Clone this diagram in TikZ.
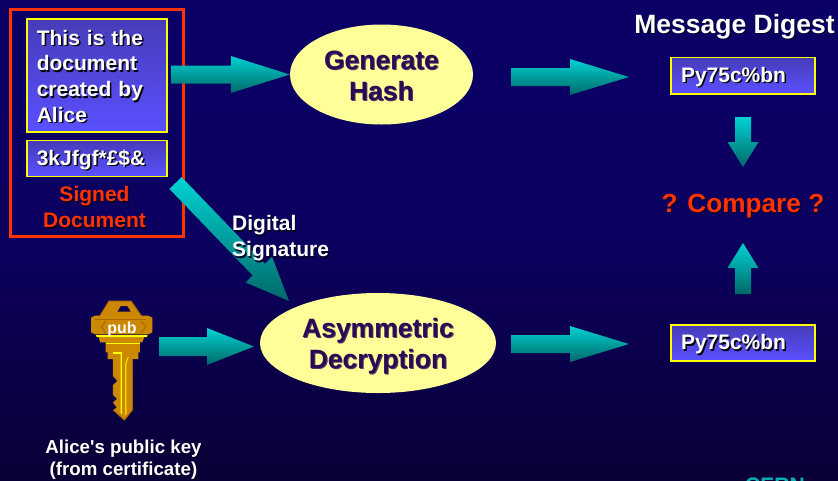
\documentclass[tikz,border=0pt]{standalone}
\usepackage{fontspec}
\setmainfont{Liberation Sans}
\newfontfamily\plainsans{Liberation Sans}
\usetikzlibrary{calc,shapes.geometric}
\definecolor{bgtop}{HTML}{0B0066}
\definecolor{bgbot}{HTML}{0A0036}
\definecolor{boxtop}{HTML}{463CB8}
\definecolor{boxbot}{HTML}{5A50FF}
\definecolor{frm}{HTML}{FF3300}
\definecolor{ell}{HTML}{FFFF99}
\definecolor{ink}{HTML}{2A0A55}
\definecolor{arrtop}{HTML}{00D2D2}
\definecolor{arrbot}{HTML}{006868}
\definecolor{keyo}{HTML}{CC8800}
\definecolor{keyd}{HTML}{A86A00}
\definecolor{keyy}{HTML}{FFFF00}
\definecolor{cern}{HTML}{00B4B4}
\newcommand\shd[1]{\leavevmode\rlap{\kern1.5pt\raisebox{-1.5pt}{\textcolor{black}{#1}}}#1}
\newcommand\shr[1]{\leavevmode\rlap{\kern1.2pt\raisebox{-1.2pt}{\textcolor{black!65!bgtop}{#1}}}#1}
\newcommand\she[1]{\leavevmode\rlap{\kern1pt\raisebox{-1pt}{\textcolor{ink!80!ell}{#1}}}#1}
\newcommand\blockarrow[5]{%
  \coordinate (hb) at ($(#2)!#5pt!(#1)$);
  \shade[top color=arrtop,bottom color=arrbot]
    ($(#1)!#3pt!90:(#2)$) -- ($(hb)!#3pt!90:(#2)$) -- ($(hb)!#4pt!90:(#2)$) -- (#2)
    -- ($(hb)!#4pt!-90:(#2)$) -- ($(hb)!#3pt!-90:(#2)$) -- ($(#1)!#3pt!-90:(#2)$) -- cycle;}
\tikzset{
  bluebox/.style={draw=keyy,line width=1.6pt,top color=boxtop,bottom color=boxbot,outer sep=0pt,
    anchor=north west,inner ysep=0pt,inner xsep=10pt,text=white,font=\bfseries\fontsize{21}{25.7}\selectfont,
    align=left,text width=120.4pt,minimum width=140.4pt},
  linebox/.style={bluebox,minimum height=36.2pt,text height=17.5pt,text depth=4pt},
  oval/.style={ellipse,fill=ell,inner sep=0pt},
  ovaltext/.style={text=ink,inner sep=0pt,align=center,font=\bfseries\fontsize{26.5}{32}\selectfont},
  wlabel/.style={text=white,inner sep=0pt,font=\bfseries\fontsize{21}{26}\selectfont},
  rlabel/.style={text=frm,inner sep=0pt,align=center,font=\bfseries\fontsize{21}{26}\selectfont}
}
\begin{document}
\begin{tikzpicture}[x=1pt,y=-1pt]
\useasboundingbox (0,0) rectangle (838,480);
\clip (0,0) rectangle (838,480);
\shade[top color=bgtop,bottom color=bgbot,middle color=bgtop!85!bgbot] (0,0) rectangle (838,480);

% frame and document
\node[draw=frm,line width=3pt,outer sep=0pt,minimum width=173pt,minimum height=227pt,anchor=north west,inner sep=0pt] (frame) at (10.5,9.5) {};
\node[bluebox,minimum height=113.4pt] (doc) at (26.8,18.8) {\rule{0pt}{18pt}\shd{This is the}\\\shd{document}\\\shd{created by}\\\shd{Alice}};
\node[linebox] (sig) at (26.8,140.3) {\shd{3kJfgf*£\$\&}};
\node[rlabel] (signed) at (94.5,208) {\shr{Signed}\\\shr{Document}};

% ovals
\node[oval,minimum width=183pt,minimum height=100pt] (hash) at (381.5,74.5) {};
\node[ovaltext,yshift=-2pt] (hasht) at (hash.center) {\she{Generate}\\[-0.5pt]\she{Hash}};
\node[oval,minimum width=236pt,minimum height=100pt] (asym) at (378,343) {};
\node[ovaltext,yshift=-3.5pt] (asymt) at (asym.center) {\she{Asymmetric}\\[-0.5pt]\she{Decryption}};

% digests
\node[font=\bfseries\fontsize{26.5}{30}\selectfont,text=white,inner sep=0pt,anchor=base] (title) at (734.5,33) {\shr{Message Digest}};
\node[linebox,text width=124pt,minimum width=144pt] (d1) at (671,57.5) {\shd{Py75c\%bn}};
\node[linebox,text width=124pt,minimum width=144pt] (d2) at (671,324.8) {\shd{Py75c\%bn}};
\node[text=frm,inner sep=0pt,font=\bfseries\fontsize{26.2}{30}\selectfont] (cmp) at (743,206.5) {\shr{? Compare ?}};

% arrow ends
\coordinate (a1s) at (171,74.5);
\coordinate (a2s) at (511,77);
\coordinate (a2e) at (629,77);
\coordinate (a3s) at (511,344);
\coordinate (a3e) at (629,344);
\coordinate (a4s) at (159,346.5);
\coordinate (a4e) at (254,346.5);
\coordinate (a5s) at (175.5,183);
\coordinate (a5e) at (289,301);
\coordinate (a6s) at (743,117);
\coordinate (a6e) at (743,167);
\coordinate (a7s) at (743,294);
\coordinate (a7e) at (743,243);

\blockarrow{a1s}{hash.west}{9}{18.5}{59}
\blockarrow{a2s}{a2e}{9}{18}{59}
\blockarrow{a3s}{a3e}{9}{18}{59}
\blockarrow{a4s}{a4e}{9.5}{18.5}{47}
\blockarrow{a5s}{a5e}{8.5}{18.4}{43.5}
\blockarrow{a6s}{a6e}{8}{15.5}{25}
\blockarrow{a7s}{a7e}{8}{15.5}{25}

\node[wlabel,align=left,anchor=north west] (dsig) at (232,215.5) {\shr{Digital}\\\shr{Signature}};

% key
\begin{scope}[shift={(85,295)},x=0.3333pt,y=-0.3333pt]
  % bow
  \fill[keyo,even odd rule] (72,18) -- (138,18) -- (170,64) -- (44,64) -- cycle
     (97,50) -- (107,33) -- (127,33) -- (138,50) -- cycle;
  \draw[keyd,line width=1pt] (44,64) -- (72,18) -- (138,18) -- (170,64);
  % band
  \fill[keyo] (18,68) -- (30,62) -- (190,62) -- (202,68) -- (202,112) -- (190,118) -- (30,118) -- (18,112) -- cycle;
  \draw[keyd,line width=1pt] (30,74) -- (182,74);
  \draw[keyd,line width=1pt] (62,78) -- (50,96) -- (62,114) (168,78) -- (182,96) -- (168,114);
  \fill[keyo] (40,120) -- (180,120) -- (172,142) -- (165,142) -- (165,172) -- (62,172) -- (62,142) -- (45,142) -- cycle;
  \fill[keyy] (33,120) -- (188,120) -- (186,126) -- (35,126) -- cycle;
  \fill[keyy] (62,143) -- (165,143) -- (165,146) -- (62,146) -- cycle;
  % blade
  \fill[keyo] (68,170) -- (160,170) -- (160,192) -- (142,192) -- (142,345) -- (118,375)
     -- (85,345) -- (95,338) -- (84,322) -- (96,312) -- (84,300) -- (84,270) -- (97,258)
     -- (84,243) -- (84,192) -- (68,192) -- cycle;
  \fill[keyy] (85,171) -- (110,171) -- (110,176) -- (85,176) -- cycle;
  \fill[keyy] (107,176) -- (111,176) -- (111,358) -- (107,354) -- cycle;
  \fill[keyy] (121,205) -- (129,186) -- (131,186) -- (124,205) -- (124,358) -- (121,361) -- cycle;
  \draw[keyd,line width=1pt] (142,192) -- (142,345) -- (118,375) -- (85,345);
\end{scope}
\node[text=white,inner sep=0pt,font=\bfseries\fontsize{16}{18}\selectfont] (pub) at (122,329) {pub};

\node[text=white,inner sep=0pt,align=center,font=\plainsans\bfseries\fontsize{18.7}{22}\selectfont] (klabel) at (123.5,460) {\shr{Alice's public key}\\\shr{(from certificate)}};
\node[text=cern,inner sep=0pt,anchor=base west,font=\bfseries\fontsize{21}{24}\selectfont] (cernl) at (745,492) {CERN};
\end{tikzpicture}
\end{document}
